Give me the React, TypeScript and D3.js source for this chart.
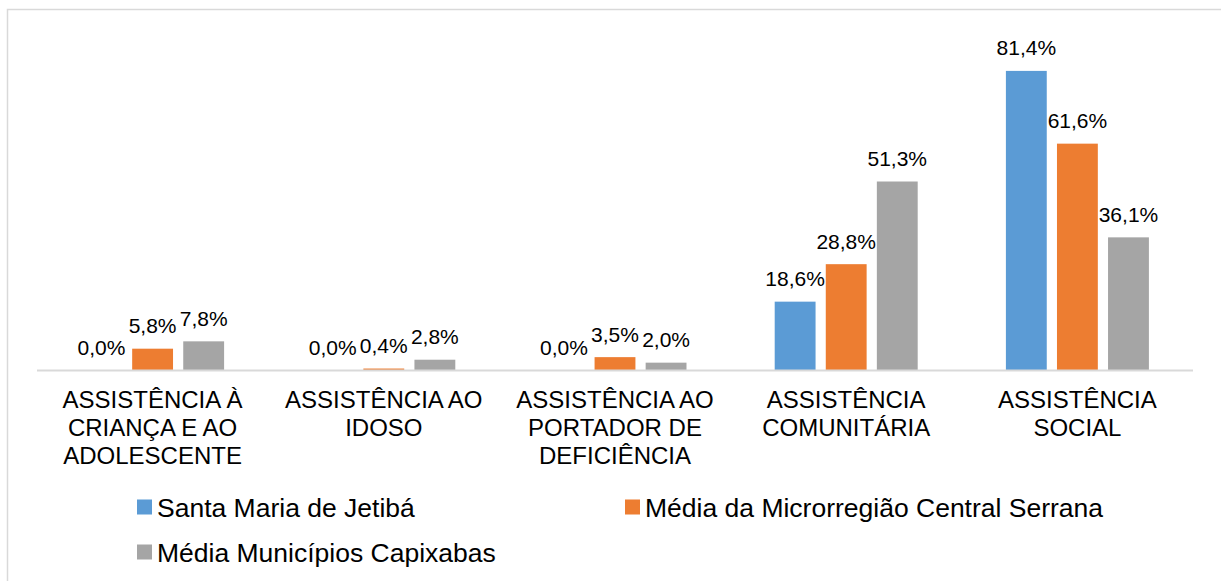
import { useEffect, useRef } from "react";
import * as d3 from "d3";

// categories (line breaks as in the picture)
const categories = [
  ["ASSISTÊNCIA À", "CRIANÇA E AO", "ADOLESCENTE"],
  ["ASSISTÊNCIA AO", "IDOSO"],
  ["ASSISTÊNCIA AO", "PORTADOR DE", "DEFICIÊNCIA"],
  ["ASSISTÊNCIA", "COMUNITÁRIA"],
  ["ASSISTÊNCIA", "SOCIAL"],
];

const seriesNames = [
  "Santa Maria de Jetibá",
  "Média da Microrregião Central Serrana",
  "Média Municípios Capixabas",
];

const santaMaria = [0.0, 0.0, 0.0, 18.6, 81.4];
const microrregiao = [5.8, 0.4, 3.5, 28.8, 61.6];
const capixabas = [7.8, 2.8, 2.0, 51.3, 36.1];

const colors = ["#5B9BD5", "#ED7D31", "#A5A5A5"];

function App() {
  const ref = useRef<SVGSVGElement>(null);

  const width = 1221;
  const height = 581;
  const margin = { left: 37, right: 28 };
  const baseY = 370;
  const font = "'Liberation Sans', Arial, sans-serif";

  useEffect(() => {
    const svg = d3.select(ref.current);
    svg.selectAll("*").remove();

    const keys = categories.map((c) => c.join(" "));
    const values = [santaMaria, microrregiao, capixabas];

    const x = d3.scaleBand().domain(keys).range([margin.left, width - margin.right]);
    const groupW = 143;
    const xs = d3.scaleBand().domain(seriesNames).range([0, groupW]).paddingInner(0.2);
    const y = d3.scaleLinear().domain([0, 90]).range([baseY, 39.3]);

    // outer frame
    svg.append("rect")
      .attr("x", 7.5).attr("y", 9.5)
      .attr("width", width + 20).attr("height", height + 20)
      .attr("fill", "white")
      .attr("stroke", "#d9d9d9").attr("stroke-width", 1.5);

    const rows = keys.flatMap((k, i) =>
      seriesNames.map((s, j) => ({ cat: k, series: s, j, value: values[j][i] }))
    );

    const bx = (d) => x(d.cat)! + x.bandwidth() / 2 - groupW / 2 + xs(d.series)!;

    svg.append("g").selectAll("rect")
      .data(rows)
      .enter()
      .append("rect")
      .attr("x", bx)
      .attr("y", (d) => y(d.value))
      .attr("width", xs.bandwidth())
      .attr("height", (d) => y(0) - y(d.value))
      .attr("fill", (d) => colors[d.j]);

    // axis line
    svg.append("line")
      .attr("x1", margin.left).attr("x2", width - margin.right)
      .attr("y1", baseY + 0.5).attr("y2", baseY + 0.5)
      .attr("stroke", "#d9d9d9").attr("stroke-width", 2);

    // data labels
    svg.append("g").selectAll("text")
      .data(rows)
      .enter()
      .append("text")
      .attr("x", (d) => bx(d) + xs.bandwidth() / 2)
      .attr("y", (d) => y(d.value) - 15.5)
      .attr("text-anchor", "middle")
      .style("font-family", font)
      .style("font-size", "21px")
      .attr("fill", "#000")
      .text((d) => d.value.toFixed(1).replace(".", ",") + "%");

    // category labels
    const cl = svg.append("g").selectAll("text")
      .data(categories)
      .enter()
      .append("text")
      .attr("text-anchor", "middle")
      .attr("x", (d) => x(d.join(" "))! + x.bandwidth() / 2)
      .attr("y", 407)
      .style("font-family", font)
      .style("font-size", "24px")
      .attr("fill", "#000");
    cl.selectAll("tspan")
      .data((d) => d.map((line, i) => ({ line, i })))
      .enter()
      .append("tspan")
      .attr("x", function () {
        return (this.parentNode as SVGTextElement).getAttribute("x");
      })
      .attr("y", (d) => 407.5 + d.i * 28.4)
      .text((d) => d.line);

    // legend
    const legendPos = [[137, 507], [625, 507], [137, 552]];
    const lg = svg.append("g").selectAll("g")
      .data(seriesNames)
      .enter()
      .append("g")
      .attr("transform", (d, i) => `translate(${legendPos[i][0]}, ${legendPos[i][1]})`);
    lg.append("rect")
      .attr("x", 0).attr("y", -7.5)
      .attr("width", 15).attr("height", 15)
      .attr("fill", (d, i) => colors[i]);
    lg.append("text")
      .attr("x", 20).attr("y", 9.5)
      .style("font-family", font)
      .style("font-size", "26.5px")
      .attr("fill", "#000")
      .text((d) => d);
  }, []);

  return (
    <div style={{ position: "absolute", left: 0, top: 0 }}>
      <svg ref={ref} width={width} height={height} style={{ display: "block" }}></svg>
    </div>
  );
}

export default App;
